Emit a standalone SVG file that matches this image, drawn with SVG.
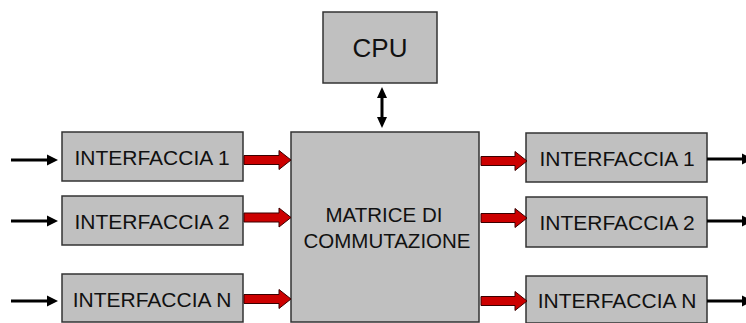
<svg xmlns="http://www.w3.org/2000/svg" width="746" height="323" viewBox="0 0 746 323">
<style>
.box{fill:#c0c0c0;stroke:#333333;stroke-width:1.5}
.t{font-family:"Liberation Sans",Arial,sans-serif;fill:#111111;text-anchor:middle}
.ti{font-size:21px}
.tm{font-size:20.5px}
.tc{font-size:26px}
.red{fill:#cc0000;stroke:#3a0000;stroke-width:1}
.blk{stroke:#000000;stroke-width:3;fill:none}
.hd{fill:#000000}
</style>
<rect width="746" height="323" fill="#ffffff"/>
<g id="cpu"><rect class="box" x="323" y="12" width="114" height="71"/><text class="t tc" x="380" y="57">CPU</text></g>
<g id="matrice"><rect class="box" x="291" y="132" width="188" height="190"/><text class="t tm" x="384" y="222">MATRICE DI</text><text class="t tm" x="387" y="248">COMMUTAZIONE</text></g>
<g id="in1"><rect class="box" x="62" y="132" width="181" height="49"/><text class="t ti" x="152" y="165">INTERFACCIA 1</text></g>
<g id="in2"><rect class="box" x="62" y="196" width="181" height="49"/><text class="t ti" x="152" y="229">INTERFACCIA 2</text></g>
<g id="inN"><rect class="box" x="62" y="274" width="181" height="48"/><text class="t ti" x="152" y="307">INTERFACCIA N</text></g>
<g id="out1"><rect class="box" x="526" y="133" width="181" height="49"/><text class="t ti" x="617" y="166">INTERFACCIA 1</text></g>
<g id="out2"><rect class="box" x="526" y="197" width="181" height="50"/><text class="t ti" x="617" y="230">INTERFACCIA 2</text></g>
<g id="outN"><rect class="box" x="526" y="276" width="181" height="47"/><text class="t ti" x="617" y="308">INTERFACCIA N</text></g>
<g id="connectors">
<path class="red" d="M244,155.5 H279 V150.5 L291,160 L279,169.5 V164.5 H244 Z"/>
<path class="red" d="M244,213 H279 V208 L291,217.5 L279,227 V222 H244 Z"/>
<path class="red" d="M244,294.5 H279 V289.5 L291,299 L279,308.5 V303.5 H244 Z"/>
<path class="red" d="M481,156.5 H515 V151.5 L527,161 L515,170.5 V165.5 H481 Z"/>
<path class="red" d="M481,213.5 H515 V208.5 L527,218 L515,227.5 V222.5 H481 Z"/>
<path class="red" d="M481,296.5 H515 V291.5 L527,301 L515,310.5 V305.5 H481 Z"/>
<line class="blk" x1="11" y1="160" x2="48" y2="160"/><path class="hd" d="M47,154.5 L58,160 L47,165.5 Z"/>
<line class="blk" x1="11" y1="221" x2="48" y2="221"/><path class="hd" d="M47,215.5 L58,221 L47,226.5 Z"/>
<line class="blk" x1="11" y1="301" x2="48" y2="301"/><path class="hd" d="M47,295.5 L58,301 L47,306.5 Z"/>
<line class="blk" x1="707" y1="159" x2="744" y2="159"/><path class="hd" d="M742,153.5 L753,159 L742,164.5 Z"/>
<line class="blk" x1="707" y1="221" x2="744" y2="221"/><path class="hd" d="M742,215.5 L753,221 L742,226.5 Z"/>
<line class="blk" x1="707" y1="301" x2="744" y2="301"/><path class="hd" d="M742,295.5 L753,301 L742,306.5 Z"/>
<line class="blk" x1="382" y1="96" x2="382" y2="119"/>
<path class="hd" d="M382,87 L387,98 L377,98 Z"/>
<path class="hd" d="M382,128 L387,117 L377,117 Z"/>
</g>
</svg>
